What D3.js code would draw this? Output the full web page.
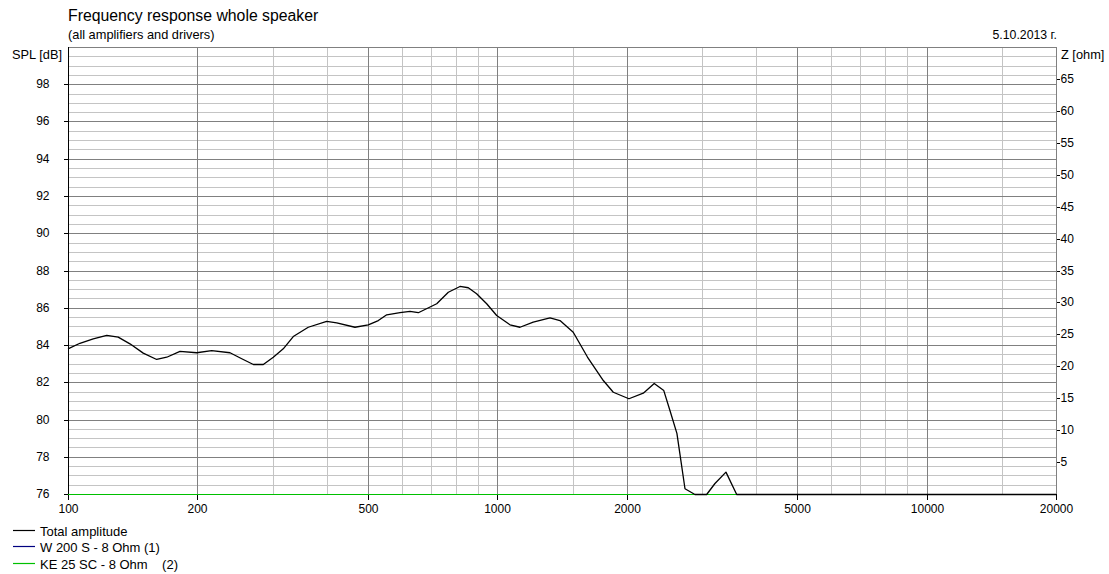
<!DOCTYPE html>
<html>
<head>
<meta charset="utf-8">
<script src="https://cdn.jsdelivr.net/npm/d3@7"></script>
<style>
  html, body { margin: 0; padding: 0; background: #fff; }
  svg { display: block; font-family: "Liberation Sans", Arial, sans-serif; }
  text { fill: #000; }
</style>
</head>
<body>
<svg id="chart" width="1109" height="574"></svg>
<script>
// ---- Data ----
const freqs = [100, 106.6, 114.5, 123.1, 130.9, 139.4, 149.7, 160.9, 169.8, 182.3,
  199.4, 216.1, 238.4, 253.9, 270.2, 285, 300.7, 317.2, 334.7, 362.7,
  400.4, 422.5, 466, 500.5, 528.1, 552.5, 593.3, 625.9, 654.4, 722.3,
  768.7, 818.4, 855.6, 894.7, 944.3, 996.3, 1070, 1129, 1212, 1326,
  1399, 1502, 1621, 1765, 1862, 2025, 2187, 2319, 2441, 2523,
  2619, 2735, 2885, 3072, 3212, 3407, 3609, 20000];
const totalSPL = [83.82, 84.12, 84.36, 84.54, 84.45, 84.09, 83.59, 83.25, 83.37, 83.68,
  83.61, 83.73, 83.61, 83.29, 82.98, 82.98, 83.37, 83.82, 84.48, 84.98,
  85.29, 85.22, 84.98, 85.11, 85.34, 85.65, 85.76, 85.83, 85.76, 86.24,
  86.86, 87.17, 87.10, 86.78, 86.24, 85.61, 85.11, 84.98, 85.25, 85.48,
  85.34, 84.71, 83.38, 82.12, 81.49, 81.14, 81.44, 81.96, 81.58, 80.51,
  79.28, 76.31, 76, 76, 76.59, 77.20, 76, 76];
const tweeterFreqs = [100, 20000];
const tweeterSPL = [76, 76];

const splTicks = [76, 78, 80, 82, 84, 86, 88, 90, 92, 94, 96, 98];
const zTicks = [5, 10, 15, 20, 25, 30, 35, 40, 45, 50, 55, 60, 65];
const freqTicks = [100, 200, 500, 1000, 2000, 5000, 10000, 20000];
const freqMinor = [300, 400, 600, 700, 800, 900, 1500, 3000, 4000, 6000, 7000, 8000, 9000, 15000];

const legendLabels = ["Total amplitude", "W 200 S - 8 Ohm (1)", "KE 25 SC - 8 Ohm    (2)"];
const legendColors = ["#000000", "#000080", "#00c000"];

const title = "Frequency response whole speaker";
const subtitle = "(all amplifiers and drivers)";
const dateText = "5.10.2013 г.";

// ---- Layout ----
const L = 68, R = 1056, T = 47, B = 494;
const svg = d3.select("#chart");

const x = d3.scaleLog().domain([100, 20000]).range([L, R]);
const y = d3.scaleLinear().domain([76, 100]).range([B, T]).clamp(true);
const z = d3.scaleLinear().domain([0, 70]).range([B, T]);

const crisp = v => Math.round(v) + 0.5;

// grid: minor horizontal lines every 0.5 dB
const hMinor = d3.range(76.5, 100, 0.5).filter(v => v % 2 !== 0);
const hMajor = splTicks.filter(v => v > 76);
const grid = svg.append("g").attr("shape-rendering", "crispEdges");
grid.selectAll("line.hmin").data(hMinor).join("line")
  .attr("x1", L).attr("x2", R)
  .attr("y1", d => crisp(y(d))).attr("y2", d => crisp(y(d)))
  .attr("stroke", "#c4c4c4");
grid.selectAll("line.vmin").data(freqMinor).join("line")
  .attr("y1", T).attr("y2", B)
  .attr("x1", d => crisp(x(d))).attr("x2", d => crisp(x(d)))
  .attr("stroke", "#c4c4c4");
grid.selectAll("line.hmaj").data(hMajor).join("line")
  .attr("x1", L).attr("x2", R)
  .attr("y1", d => crisp(y(d))).attr("y2", d => crisp(y(d)))
  .attr("stroke", "#808080");
grid.selectAll("line.vmaj").data(freqTicks.filter(f => f > 100 && f < 20000)).join("line")
  .attr("y1", T).attr("y2", B)
  .attr("x1", d => crisp(x(d))).attr("x2", d => crisp(x(d)))
  .attr("stroke", "#808080");

// frame
const frame = svg.append("g").attr("shape-rendering", "crispEdges");
frame.append("line").attr("x1", L).attr("x2", R).attr("y1", crisp(T)).attr("y2", crisp(T)).attr("stroke", "#808080");
frame.append("line").attr("x1", crisp(R)).attr("x2", crisp(R)).attr("y1", T).attr("y2", B).attr("stroke", "#808080");
frame.append("line").attr("x1", crisp(L)).attr("x2", crisp(L)).attr("y1", T).attr("y2", B + 1).attr("stroke", "#000");
frame.append("line").attr("x1", L).attr("x2", R + 1).attr("y1", crisp(B)).attr("y2", crisp(B)).attr("stroke", "#000");

// axes
const fmt = d3.format("d");
const leftAxis = svg.append("g").attr("transform", `translate(${crisp(L)},0)`)
  .call(d3.axisLeft(y).tickValues(splTicks).tickSize(5).tickPadding(14).tickFormat(fmt));
const bottomAxis = svg.append("g").attr("transform", `translate(0,${crisp(B)})`)
  .call(d3.axisBottom(x).tickValues(freqTicks).tickSize(5).tickPadding(5).tickFormat(fmt));
const rightAxis = svg.append("g").attr("transform", `translate(${crisp(R)},0)`)
  .call(d3.axisRight(z).tickValues(zTicks).tickSize(3).tickPadding(1).tickFormat(fmt));
[leftAxis, bottomAxis, rightAxis].forEach(a => {
  a.select(".domain").remove();
  a.attr("font-family", "Liberation Sans, Arial, sans-serif").attr("font-size", 12);
  a.selectAll(".tick line").attr("stroke", "#000").attr("shape-rendering", "crispEdges");
  a.selectAll(".tick text").attr("fill", "#000");
});
leftAxis.selectAll(".tick").attr("transform", d => `translate(0,${crisp(y(d))})`);
rightAxis.selectAll(".tick").attr("transform", d => `translate(0,${crisp(z(d))})`);
bottomAxis.selectAll(".tick").attr("transform", d => `translate(${crisp(x(d))},0)`);

// series (shifted half a pixel so flat parts sit on the pixel row of the axis)
const line = d3.line().x(d => x(d[0])).y(d => y(d[1]));
const series = svg.append("g").attr("transform", "translate(0,0.5)");
series.append("path")
  .datum(tweeterFreqs.map((f, i) => [f, tweeterSPL[i]]))
  .attr("d", line).attr("fill", "none").attr("stroke", legendColors[2]).attr("stroke-width", 1.2);
series.append("path")
  .datum(freqs.map((f, i) => [f, totalSPL[i]]))
  .attr("d", line).attr("fill", "none").attr("stroke", legendColors[0]).attr("stroke-width", 1.3)
  .attr("stroke-linejoin", "round");

// texts
svg.append("text").attr("x", 68).attr("y", 21).attr("font-size", 15.8).text(title);
svg.append("text").attr("x", 68).attr("y", 39).attr("font-size", 12.8).text(subtitle);
svg.append("text").attr("x", 1057).attr("y", 39).attr("font-size", 12.3).attr("text-anchor", "end").text(dateText);
svg.append("text").attr("x", 62).attr("y", 59).attr("font-size", 12.8).attr("text-anchor", "end").text("SPL [dB]");
svg.append("text").attr("x", 1061).attr("y", 59).attr("font-size", 12.8).text("Z [ohm]");

// legend
const leg = svg.append("g");
const rows = leg.selectAll("g").data(legendLabels).join("g")
  .attr("transform", (d, i) => `translate(0,${Math.round(530 + i * 16.3)})`);
rows.append("line").attr("x1", 13).attr("x2", 35).attr("y1", 0.5).attr("y2", 0.5)
  .attr("stroke", (d, i) => legendColors[i]).attr("stroke-width", 1.2);
rows.append("text").attr("x", 40).attr("y", 5.5).attr("font-size", 13)
  .attr("xml:space", "preserve").style("white-space", "pre").text(d => d);
</script>
</body>
</html>
